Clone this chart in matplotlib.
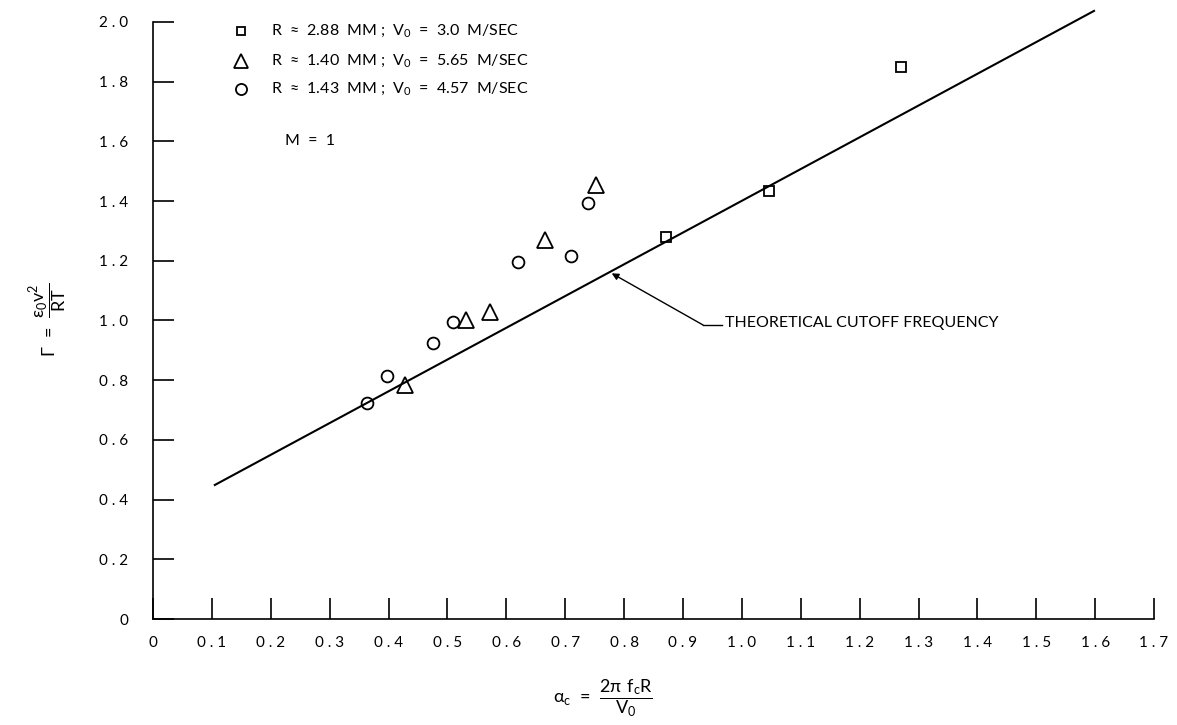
import matplotlib
matplotlib.use("Agg")
import matplotlib.pyplot as plt

# data
sq_x = [0.872, 1.046, 1.271]
sq_y = [1.28, 1.435, 1.85]
tri_x = [0.428, 0.532, 0.572, 0.666, 0.753]
tri_y = [0.785, 1.00, 1.03, 1.27, 1.455]
circ_x = [0.363, 0.397, 0.475, 0.510, 0.620, 0.709, 0.739]
circ_y = [0.724, 0.814, 0.925, 0.995, 1.196, 1.216, 1.394]
theory_x = [0.105, 1.598]
theory_y = [0.449, 2.037]

x_ticks = [i / 10 for i in range(0, 18)]
y_ticks = [i / 10 for i in range(0, 21, 2)]
legend_labels = [
    r"R  ≈  2.88  MM ;  V$_0$  =  3.0  M/SEC",
    r"R  ≈  1.40  MM ;  V$_0$  =  5.65  M/SEC",
    r"R  ≈  1.43  MM ;  V$_0$  =  4.57  M/SEC",
]

plt.rcParams['font.family'] = ['Lato', 'DejaVu Sans']
plt.rcParams['mathtext.fontset'] = 'dejavusans'
plt.rcParams['mathtext.default'] = 'regular'

fig = plt.figure(figsize=(11.77, 7.25), dpi=100)
ax = fig.add_axes([0.130, 0.1462, 0.8505, 0.8235])

ax.plot(theory_x, theory_y, color='black', lw=1.5, clip_on=False)
mk = dict(linestyle='none', mfc='none', mec='black', mew=1.3, clip_on=False)
ax.plot(sq_x, sq_y, marker='s', ms=7, **mk)
ax.plot(tri_x, tri_y, marker='^', ms=11, **mk)
ax.plot(circ_x, circ_y, marker='o', ms=8.5, **mk)

ax.set_xlim(0, 1.7)
ax.set_ylim(0, 2.0)
ax.spines['top'].set_visible(False)
ax.spines['right'].set_visible(False)
for s in ('left', 'bottom'):
    ax.spines[s].set_linewidth(1.2)

ax.set_xticks(x_ticks)
ax.set_xticklabels(['0'] + [f"{v:.1f}".replace('.', ' . ') for v in x_ticks[1:]])
ax.set_yticks(y_ticks)
ax.set_yticklabels(['0'] + [f"{v:.1f}".replace('.', ' . ') for v in y_ticks[1:]])
ax.tick_params(axis='both', direction='in', length=15, width=1.2, labelsize=11)
ax.tick_params(axis='x', pad=12)
ax.tick_params(axis='y', pad=18)

# legend drawn by hand in the upper left
leg_y = [0.985, 0.935, 0.888]
leg_mk = ['s', '^', 'o']
leg_ms = [6, 10, 8]
for yy, m, ms, lab in zip(leg_y, leg_mk, leg_ms, legend_labels):
    ax.plot([0.088], [yy], transform=ax.transAxes, marker=m, ms=ms,
            **mk)
    ax.text(0.118, yy, lab, transform=ax.transAxes, fontsize=11.5,
            va='center', ha='left')
ax.text(0.132, 0.80, "M  =  1", transform=ax.transAxes, fontsize=11.5,
        va='center', ha='left')

ax.annotate("", xy=(0.779, 1.158), xytext=(0.934, 0.985),
            arrowprops=dict(arrowstyle='-|>', color='black', lw=1.0,
                            mutation_scale=10, shrinkA=0, shrinkB=0))
ax.plot([0.934, 0.966], [0.985, 0.985], color='black', lw=1.0)
ax.text(0.972, 0.99, "THEORETICAL CUTOFF FREQUENCY", fontsize=11.5,
        va='center', ha='left')

fig.text(48 / 1177, 1 - 320 / 725, r"$\Gamma\ =\ \dfrac{\epsilon_0 v^2}{RT}$",
         rotation=90, fontsize=13, ha='center', va='center')
fig.text(603 / 1177, 1 - 698 / 725, r"$\alpha_c\ =\ \dfrac{2\pi\ f_c R}{V_0}$",
         fontsize=13, ha='center', va='center')

fig.savefig("out.png", dpi=100)
